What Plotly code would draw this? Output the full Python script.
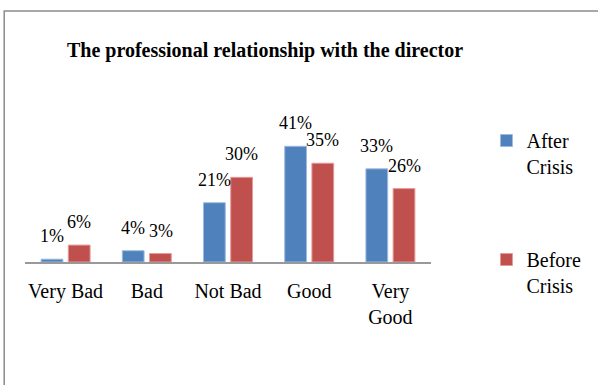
import plotly.graph_objects as go

categories = ["Very Bad", "Bad", "Not Bad", "Good", "Very<br>Good"]
after_crisis = [1, 4, 21, 41, 33]
before_crisis = [6, 3, 30, 35, 26]
series_names = ["After<br>Crisis", "Before<br>Crisis"]

BLUE = "#4F81BD"
RED = "#C0504D"
SERIF = "Liberation Serif, Times New Roman, serif"

W, H = 598, 385
ML, MR, MT, MB = 25, 163, 135, 123
plot_w = W - ML - MR
plot_h = H - MT - MB

fig = go.Figure()
fig.add_trace(go.Bar(
    x=categories, y=after_crisis, name=series_names[0], legendgroup="a",
    marker=dict(color=BLUE, line=dict(color="#9dbbe0", width=1)),
))
fig.add_trace(go.Bar(
    x=categories, y=before_crisis, name=series_names[1], legendgroup="b",
    marker=dict(color=RED, line=dict(color="#e59a98", width=1)),
))

# value labels above each bar
slot = 13.75
annotations = []
for vals, shift in ((after_crisis, -slot), (before_crisis, slot)):
    for c, v in zip(categories, vals):
        annotations.append(dict(
            x=c, y=v, xref="x", yref="y", text=f"{v}%", showarrow=False,
            xshift=shift, yanchor="bottom", yshift=11,
            font=dict(family=SERIF, size=18, color="#000"),
        ))

# outer chart frame (top and left edges visible)
shapes = [dict(
    type="rect", xref="paper", yref="paper",
    x0=(4 - ML) / plot_w, x1=(W + 10 - ML) / plot_w,
    y0=(H - MB - (H + 10)) / plot_h, y1=(H - MB - 11) / plot_h,
    line=dict(color="#8c8c8c", width=1.5), fillcolor="rgba(0,0,0,0)",
)]

fig.update_layout(
    width=W, height=H,
    margin=dict(l=ML, r=MR, t=MT, b=MB),
    paper_bgcolor="white", plot_bgcolor="white",
    barmode="group", bargap=0.33, bargroupgap=0.2,
    title=dict(
        text="<b>The professional relationship with the director</b>",
        x=265 / W, xanchor="center", xref="container",
        y=1 - 50 / H, yanchor="middle",
        font=dict(family=SERIF, size=20, color="#000"),
    ),
    xaxis=dict(
        showline=True, linecolor="#999999", linewidth=2,
        ticks="", showgrid=False, zeroline=False,
        ticklabelstandoff=10,
        tickfont=dict(family=SERIF, size=20, color="#000"),
    ),
    yaxis=dict(range=[0, 45], visible=False, showgrid=False, zeroline=False),
    legend=dict(
        x=(491 - ML) / plot_w, xanchor="left",
        y=(H - MB - 121) / plot_h, yanchor="top",
        valign="top", tracegroupgap=64,
        traceorder="grouped",
        font=dict(family=SERIF, size=20, color="#000"),
        bgcolor="rgba(0,0,0,0)",
    ),
    annotations=annotations,
    shapes=shapes,
    showlegend=True,
)

fig.write_html("out.html")
